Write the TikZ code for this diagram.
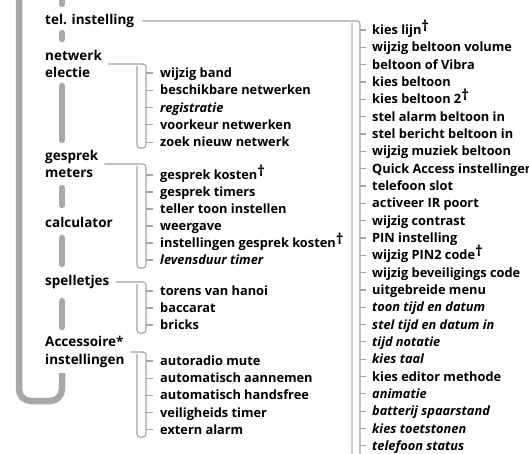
\documentclass[tikz,border=0pt]{standalone}
\usepackage{fontspec}
\setmainfont{Open Sans}
\usetikzlibrary{positioning}
\definecolor{balkgrijs}{HTML}{A8A8A8}
\definecolor{lijngrijs}{HTML}{A2A2A2}
\definecolor{lichtgrijs}{HTML}{CDCDCD}
\tikzset{hoofd/.style={anchor=west, inner sep=0pt, align=left, font=\bfseries\fontsize{13.5}{17.5}\selectfont},
  item/.style={anchor=west, inner sep=0pt, text height=8.8pt, text depth=0pt, font=\bfseries\fontsize{12.8}{13}\selectfont},
  balk/.style={line width=6.5pt, balkgrijs, line cap=round},
  lijn/.style={line width=1.1pt, lijngrijs, rounded corners=3pt},
  licht/.style={line width=1.1pt, lichtgrijs},}
\newcommand{\kruis}{\raisebox{.45ex}{\fontsize{15}{15}\selectfont †}}

\begin{document}
\begin{tikzpicture}[x=1pt, y=-1pt]
\useasboundingbox (0,0) rectangle (529,453);
\node [hoofd] (tel) at (45,21) {tel. instelling};
\node [hoofd] (netwerk) at (45,64) {netwerk\\electie};
\node [hoofd] (gesprek) at (45,164) {gesprek\\meters};
\node [hoofd] (calc) at (45,222) {calculator};
\node [hoofd] (spel) at (45,282) {spelletjes};
\node [hoofd] (acc) at (45,352) {Accessoire*\\instellingen};

\draw[balk] (62,-5) -- (62,4);
\draw[balk] (62,33) -- (62,39);
\draw[balk] (62,86) -- (62,140);
\draw[balk] (62,188) -- (62,205);
\draw[balk] (62,238) -- (62,264);
\draw[balk] (62,301) -- (62,327);
\draw[balk, rounded corners=12pt, line cap=butt] (62,373) -- (62,401) -- (19,401) -- (19,-5);

\foreach \txt [count=\i] in {kies lijn\kruis, wijzig beltoon volume, beltoon of Vibra, kies beltoon, kies beltoon 2\kruis,
  stel alarm beltoon in, stel bericht beltoon in, wijzig muziek beltoon, Quick Access instellingen, telefoon slot,
  activeer IR poort, wijzig contrast, PIN instelling, wijzig PIN2 code\kruis, wijzig beveiligings code, uitgebreide menu,
  \itshape toon tijd en datum, \itshape stel tijd en datum in, \itshape tijd notatie, \itshape kies taal,
  kies editor methode, \itshape animatie, \itshape batterij spaarstand, \itshape kies toetstonen, \itshape telefoon status}
  \node [item] (t\i) at (372,{30+17.33*(\i-1)}) {\txt};
\foreach \txt [count=\i] in {wijzig band, beschikbare netwerken, \itshape registratie, voorkeur netwerken, zoek nieuw netwerk}
  \node [item] (n\i) at (160,{73+17.3*(\i-1)}) {\txt};
\foreach \txt [count=\i] in {gesprek kosten\kruis, gesprek timers, teller toon instellen, weergave,
  instellingen gesprek kosten\kruis, \itshape levensduur timer}
  \node [item] (g\i) at (160,{175+17*(\i-1)}) {\txt};
\foreach \txt [count=\i] in {torens van hanoi, baccarat, bricks}
  \node [item] (s\i) at (160,{291+17*(\i-1)}) {\txt};
\foreach \txt [count=\i] in {autoradio mute, automatisch aannemen, automatisch handsfree, veiligheids timer, extern alarm}
  \node [item] (a\i) at (160,{361+17.2*(\i-1)}) {\txt};

\draw[lijn, shorten <=8pt] (tel.east) -- (360,21) -- (360,460);
\draw[licht] (352,23) -- (352,460);
\foreach \i in {1,...,25} \draw[lijn] ([xshift=-12pt]t\i.west) -- ++(6pt,0);

\draw[lijn, shorten <=6pt] (netwerk.east) -- (146,64) -- (146,148) -- (137,148) -- (137,66);
\foreach \i in {1,...,5} \draw[lijn] ([xshift=-14pt]n\i.west) -- ++(7pt,0);

\draw[lijn, shorten <=6pt] (gesprek.east) -- (146,164) -- (146,268) -- (137,268) -- (137,166);
\foreach \i in {1,...,6} \draw[lijn] ([xshift=-14pt]g\i.west) -- ++(7pt,0);

\draw[lijn, shorten <=6pt] (spel.east) -- (146,282) -- (146,333) -- (137,333) -- (137,284);
\foreach \i in {1,...,3} \draw[lijn] ([xshift=-14pt]s\i.west) -- ++(7pt,0);

\draw[lijn, shorten <=6pt] (acc.east) -- (146,352) -- (146,437) -- (137,437) -- (137,354);
\foreach \i in {1,...,5} \draw[lijn] ([xshift=-14pt]a\i.west) -- ++(7pt,0);
\end{tikzpicture}
\end{document}
